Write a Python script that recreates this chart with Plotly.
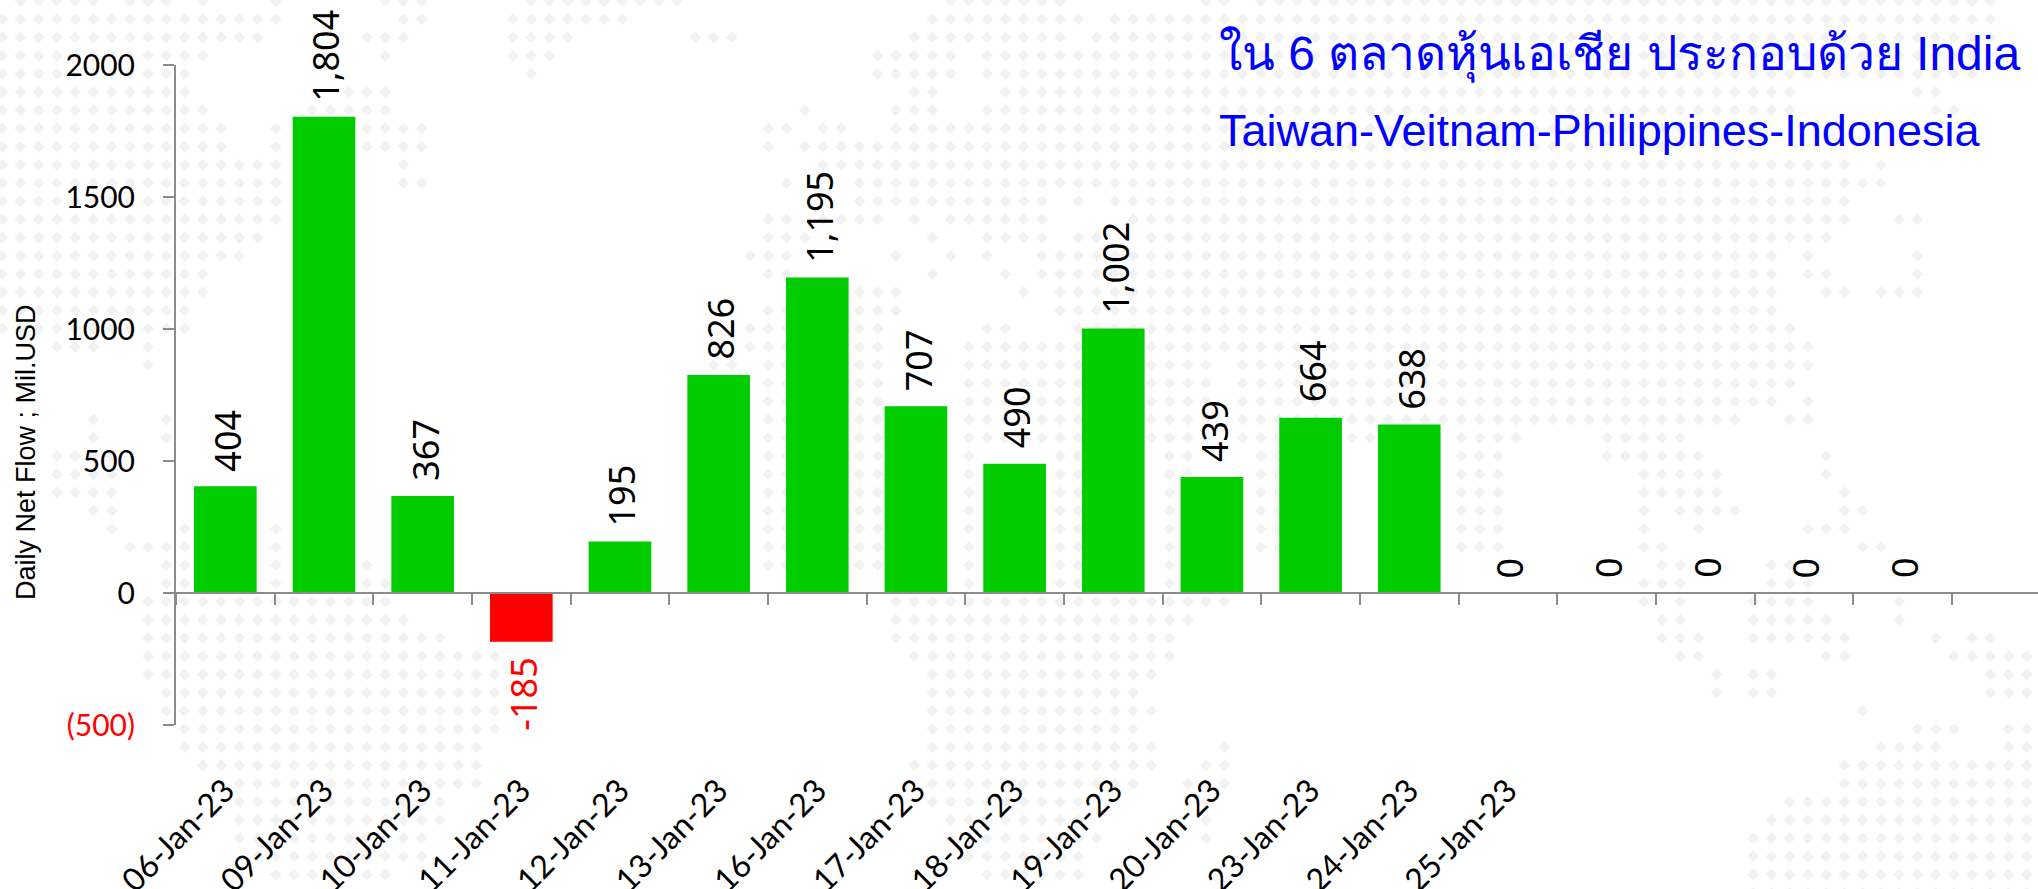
import plotly.graph_objects as go

# ---- data ----
dates = ["06-Jan-23","09-Jan-23","10-Jan-23","11-Jan-23","12-Jan-23","13-Jan-23","16-Jan-23",
         "17-Jan-23","18-Jan-23","19-Jan-23","20-Jan-23","23-Jan-23","24-Jan-23","25-Jan-23",
         " ","  ","   ","    "]
net_flow = [404,1804,367,-185,195,826,1195,707,490,1002,439,664,638,0,0,0,0,0]
y_ticks = [-500,0,500,1000,1500,2000]
y_labels = ['<span style="color:#ff0000">(500)</span>',"0","500","1000","1500","2000"]
line2 = "ใน 6 ตลาดหุ้นเอเชีย ประกอบด้วย India"
line3 = "Taiwan-Veitnam-Philippines-Indonesia"
y_title = "Daily Net Flow ; Mil.USD"

# decorative dotted world-map backdrop: one entry per dot row, column spans
map_rows = [
"1-5 7-9 11 15 21-23 29-37 52-58 66-67 69-109","0-15 22-23 28-34 51-59 61-109","0-14 20-22 28-31 38-40 50-58 60-109",
"0-11 21 28-30 48-52 54-108","0-10 29 48-52 54-108","0-10 19-21 50-51 55-98 105-106","0-11 17-21 44 49-51 54-98 106-107",
"0-12 15 20-23 42-43 45-46 49-96","0-12 15 20-23 42 44-96","0-15 22 45-101 103","0-15 22-23 43 47-103","0-15 47-57 59 61-101",
"0-15 42-43 45-48 50 52-57 62-101 104-105","0-14 42-44 51 54-57 59-60 63-100","0-13 41-43 49 52 54 57-97 99 105",
"0-11 42-43 51 55 57-97 99-100 105","0-11 47-49 56 58-97 100-101 103-105","0-10 42-43 47-49 58-97","0-10 41-43 47-48 54-55 59-98",
"3-5 8 41-43 47-48 53-99","8 39-40 42-43 47-48 53-66 68-99","42-43 47-48 53-66 68-98","42-43 47-48 53-66 68-97 99",
"5 9 42-43 47-48 53-66 68-95 98-99","5 9 42-43 47-48 53-66 68-75 80-83 88-92","3-6 42-43 47-48 53 58-59 64-65 69-70 80-82 88-93 100",
"3-6 42-43 47-48 53 58-59 64-65 69-70 80-82 90-94 100","3-6 42-43 47-48 53 58-59 64-65 69-70 80-82 90-94 101",
"5-6 42-43 47-48 53 58-59 64-65 69-70 80-82 90 92-95 101-102","6 10 15 42-43 47-48 53 58-59 64-65 69-70 80-82 90 93 99-101",
"7-10 15 42-43 47-48 53 58-59 64-65 69-70 80-82 90-91 102-103","9-10 15 20 42-43 47-48 53 58-59 64 91-92 97-98",
"9-10 15 20-21 53 58-59 64-65 90-92 97-99","8-21 49-67 90 92 96-99 104","8-22 49-65 91-92 96-100 104",
"8-24 49-64 91-93 96-101 106 108-109","8-27 50-64 92-93 100-101 107-111","8-27 51-63 94 96-97 109-111","9-27 51-62 94 96-97 109-111",
"9-27 51-63 102","10-27 51-62 105-107 110-111","10-26 51-63 67 103-106 110-111","11-26 50-63 66-67 101-111",
"13-26 51-62 65-67 101-111","13-24 51-59 66 98-111","13-24 52-59 66 97-111","13-23 52-60 66 96-111","14-23 53-59 96-111",
"15-21 54-59 96-111","96-111",
]

dot_x, dot_y = [], []
for r, spans in enumerate(map_rows):
    for s in spans.split():
        a, _, b = s.partition("-")
        for c in range(int(a), int(b or a) + 1):
            dot_x.append(2.2 + 18.24 * c)
            dot_y.append(1 + 18.2 * r)

W, H = 2038, 889
LEFT, TOP, BOTTOM = 176.0, 65.0, 725.0
STEP = 98.66
GREY = "#8c8c8c"
GREEN, RED = "#00cc00", "#ff0000"

fig = go.Figure()
fig.add_trace(go.Scatter(x=dot_x, y=dot_y, mode="markers", xaxis="x", yaxis="y", hoverinfo="skip",
                         marker=dict(symbol="diamond", size=9, color="#f2f2f2", line_width=0)))
fig.add_trace(go.Bar(x=dates, y=net_flow, xaxis="x2", yaxis="y2", width=0.635, hoverinfo="skip",
                     marker=dict(color=[RED if v < 0 else GREEN for v in net_flow], line_width=0)))

ann = []
for d, v in zip(dates, net_flow):
    ann.append(dict(x=d, y=v, xref="x2", yref="y2", text=f"{v:,}", textangle=-90, showarrow=False,
                    xshift=2, yshift=(13 if v >= 0 else -14), yanchor=("bottom" if v >= 0 else "top"),
                    font=dict(family="Noto Sans", size=36, color=(RED if v < 0 else "black"))))
ann.append(dict(xref="paper", yref="paper", x=1217/W, y=1-69/H, xanchor="left", yanchor="bottom", showarrow=False,
                text=line2, font=dict(family="Liberation Sans, Noto Sans", size=48, color="#0000ff"), yshift=-16))
ann.append(dict(xref="paper", yref="paper", x=1217/W, y=1-146/H, xanchor="left", yanchor="bottom", showarrow=False,
                text=line3, font=dict(family="Liberation Sans", size=45, color="#0000ff"), yshift=-12))
ann.append(dict(xref="paper", yref="paper", x=26/W, y=1-452/H, xanchor="center", yanchor="middle", showarrow=False,
                text=y_title, textangle=-90, font=dict(family="Liberation Sans", size=27, color="black")))

fig.update_layout(
    width=W, height=H, autosize=False, margin=dict(l=0, r=0, t=0, b=0, pad=0),
    paper_bgcolor="white", plot_bgcolor="rgba(0,0,0,0)", showlegend=False, annotations=ann,
    xaxis=dict(domain=[0, 1], range=[0, W], visible=False, fixedrange=True, automargin=False),
    yaxis=dict(domain=[0, 1], range=[H, 0], visible=False, fixedrange=True, automargin=False),
    xaxis2=dict(domain=[LEFT/W, 1], range=[-0.5, -0.5 + (W-LEFT)/STEP], type="category", automargin=False,
                categoryorder="array", categoryarray=dates, anchor="free", position=1-593/H,
                showline=True, linecolor=GREY, linewidth=2, ticks="outside", ticklen=11, tickwidth=1.5,
                tickcolor=GREY, tickson="boundaries", tickangle=-45, ticklabelstandoff=165,
                tickfont=dict(family="Lato", size=32, color="black"), showgrid=False, zeroline=False),
    yaxis2=dict(domain=[1-BOTTOM/H, 1-TOP/H], range=[-500, 2000], anchor="x2", tickmode="array", automargin=False,
                tickvals=y_ticks, ticktext=y_labels, showline=True, linecolor=GREY, linewidth=2,
                ticks="outside", ticklen=11, tickwidth=1.5, tickcolor=GREY, ticklabelstandoff=22,
                tickfont=dict(family="Lato", size=30, color="black"), showgrid=False, zeroline=False),
)
fig.write_html("out.html", config={"displayModeBar": False},
               post_script="document.body.style.margin='0';document.documentElement.style.overflow='hidden';")
